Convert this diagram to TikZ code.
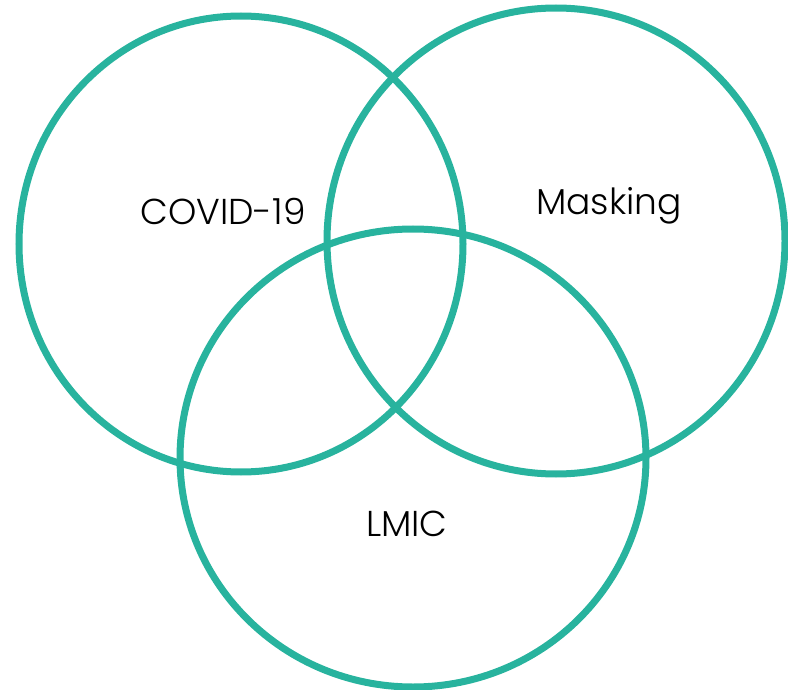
\documentclass[tikz,border=0pt]{standalone}
\usepackage{fontspec}
\setmainfont{Poppins}[UprightFont=* Light]
\usepackage{xcolor}
\definecolor{vennteal}{RGB}{40,179,158}
\newcommand{\ringw}{7pt}

\begin{document}
\begin{tikzpicture}[x=1pt, y=-1pt]
        \useasboundingbox (0, 0) rectangle (788, 690);
        \coordinate (covid) at (241, 244);
        \coordinate (mask) at (556, 241);
        \coordinate (lmic) at (413, 458);
        % circles
        \draw[vennteal, line width=\ringw] (covid) ellipse [x radius=222, y radius=228];
        \draw[vennteal, line width=\ringw] (mask) ellipse [x radius=229, y radius=233];
        \draw[vennteal, line width=\ringw] (lmic) ellipse [x radius=233, y radius=229];
        % labels
        \node[font=\fontsize{36}{40}\selectfont] (covidlabel) at (223, 211) {COVID-19};
        \node[font=\fontsize{36}{40}\selectfont] (masklabel) at (609, 206) {Masking};
        \node[font=\fontsize{36}{40}\selectfont] (lmiclabel) at (407, 524) {LMIC};
    \end{tikzpicture}
\end{document}
